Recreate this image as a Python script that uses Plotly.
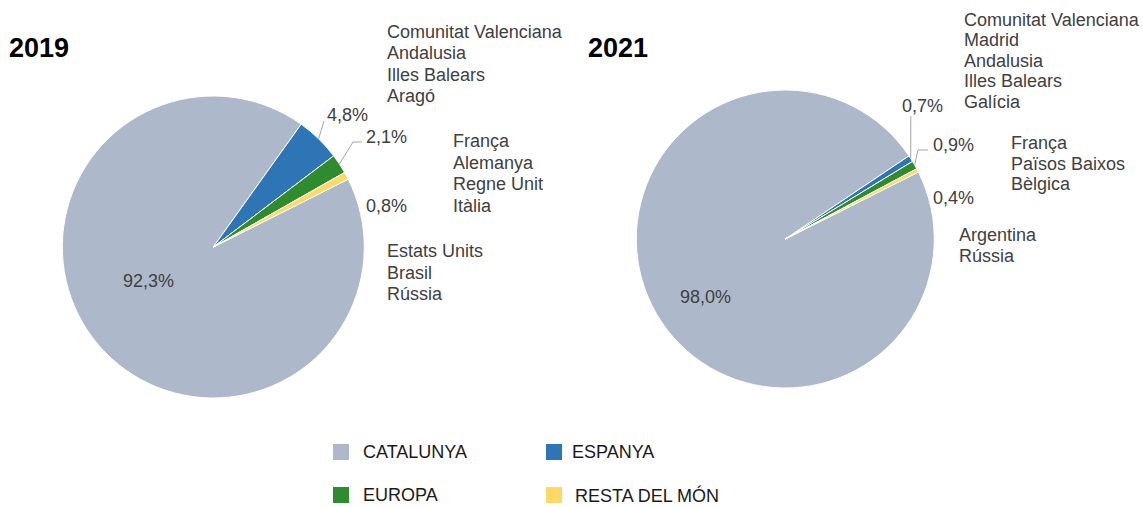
import math
import plotly.graph_objects as go

W, H = 1143, 507

# ---------------- data ----------------
years = ["2019", "2021"]
categories = ["CATALUNYA", "ESPANYA", "EUROPA", "RESTA DEL MÓN"]
values_2019 = [92.3, 4.8, 2.1, 0.8]
values_2021 = [98.0, 0.7, 0.9, 0.4]
colors = ["#ADB9CA", "#2E75B6", "#2E8B2E", "#FFD966"]

regions_2019_espanya = ["Comunitat Valenciana", "Andalusia", "Illes Balears", "Aragó"]
regions_2019_europa = ["França", "Alemanya", "Regne Unit", "Itàlia"]
regions_2019_resta = ["Estats Units", "Brasil", "Rússia"]
regions_2021_espanya = ["Comunitat Valenciana", "Madrid", "Andalusia", "Illes Balears", "Galícia"]
regions_2021_europa = ["França", "Països Baixos", "Bèlgica"]
regions_2021_resta = ["Argentina", "Rússia"]

FONT = "Liberation Sans, Arial, sans-serif"
LABEL_COLOR = "#404040"
ROTATION = 63.3


def px(x):
    return x / W


def py(y):
    return 1 - y / H


def fmt(v):
    return f"{v:.1f}".replace(".", ",") + "%"


# pie geometry (pixels): center and radius
pies = [
    dict(year=years[0], values=values_2019, cx=213.3, cy=247, r=151),
    dict(year=years[1], values=values_2021, cx=785.3, cy=239, r=149),
]

fig = go.Figure()
for p in pies:
    fig.add_trace(go.Pie(
        labels=categories, values=p["values"], sort=False,
        direction="clockwise", rotation=ROTATION,
        marker=dict(colors=colors, line=dict(color="white", width=1)),
        textinfo="none", hoverinfo="label+percent", showlegend=False,
        domain=dict(x=[px(p["cx"] - p["r"]), px(p["cx"] + p["r"])],
                    y=[py(p["cy"] + p["r"]), py(p["cy"] - p["r"])]),
    ))


def slice_mid(p, idx):
    vals = p["values"]
    tot = sum(vals)
    start = ROTATION + sum(vals[:idx]) / tot * 360
    mid = start + vals[idx] / tot * 360 / 2
    a = math.radians(mid)
    return p["cx"] + p["r"] * math.sin(a), p["cy"] - p["r"] * math.cos(a)


annotations = []
shapes = []


def text(x, y, s, size=18, color=LABEL_COLOR, bold=False, xanchor="left"):
    annotations.append(dict(
        x=px(x), y=py(y), xref="paper", yref="paper", text=f"<b>{s}</b>" if bold else s,
        showarrow=False, xanchor=xanchor, yanchor="middle",
        font=dict(family=FONT, size=size, color=color), borderpad=0))


def lines_block(x, y0, step, items):
    for i, s in enumerate(items):
        text(x, y0 + i * step, s)


def leader(points):
    path = "M " + " L ".join(f"{px(x)},{py(y)}" for x, y in points)
    shapes.append(dict(type="path", path=path, xref="paper", yref="paper",
                       line=dict(color="#A6A6A6", width=1)))


# ---- 2019 ----
p = pies[0]
text(8, 48, years[0], size=27, color="#000000", bold=True)
text(148, 281, fmt(p["values"][0]), xanchor="center")
text(326, 115, fmt(p["values"][1]))
text(365, 137, fmt(p["values"][2]))
text(365, 206, fmt(p["values"][3]))
lines_block(386, 32, 21.3, regions_2019_espanya)
lines_block(452, 141, 21.6, regions_2019_europa)
lines_block(386, 251, 21.5, regions_2019_resta)
leader([slice_mid(p, 1), (324, 121)])
leader([slice_mid(p, 2), (353, 142), (362, 142)])

# ---- 2021 ----
p = pies[1]
text(587, 48, years[1], size=27, color="#000000", bold=True)
text(705, 297, fmt(p["values"][0]), xanchor="center")
text(901, 106, fmt(p["values"][1]))
text(932, 145, fmt(p["values"][2]))
text(932, 198, fmt(p["values"][3]))
lines_block(963, 20, 20.4, regions_2021_espanya)
lines_block(1010, 142.5, 21, regions_2021_europa)
lines_block(958, 235, 20.5, regions_2021_resta)
bx, by = slice_mid(p, 1)
leader([(bx, by), (bx, 116)])
leader([slice_mid(p, 2), (918, 150), (928, 150)])

# ---- legend (manual, 2 x 2) ----
legend_pos = [(333, 452), (546, 452), (333, 495), (546, 495)]
text_offsets = [29, 25, 29, 28]
for (lx, ly), cat, col, off in zip(legend_pos, categories, colors, text_offsets):
    shapes.append(dict(type="rect", xref="paper", yref="paper",
                       x0=px(lx), x1=px(lx + 16), y0=py(ly + 8), y1=py(ly - 8),
                       fillcolor=col, line=dict(width=0)))
    text(lx + off, ly, cat, color="#1A1A1A")

fig.update_layout(
    width=W, height=H,
    margin=dict(l=0, r=0, t=0, b=0),
    paper_bgcolor="white", plot_bgcolor="white",
    annotations=annotations, shapes=shapes,
    font=dict(family=FONT),
)

fig.write_html(
    "out.html",
    config={"displayModeBar": False},
    post_script="document.body.style.margin='0';document.body.style.overflow='hidden';",
)
